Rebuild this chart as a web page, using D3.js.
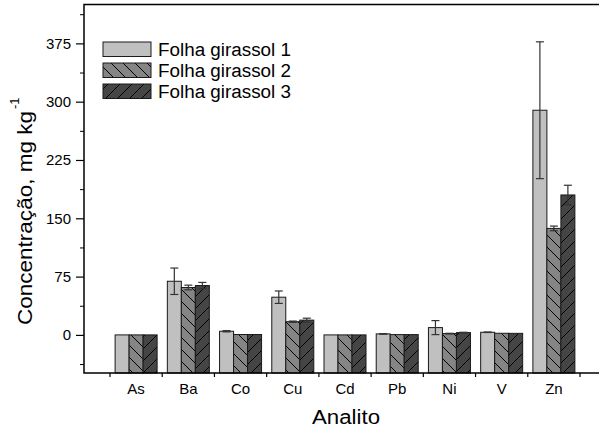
<!DOCTYPE html>
<html>
<head>
<meta charset="utf-8">
<script src="https://cdn.jsdelivr.net/npm/d3@7"></script>
<style>
  html, body { margin: 0; padding: 0; background: #fff; }
  svg { display: block; font-family: "Liberation Sans", Arial, sans-serif; }
</style>
</head>
<body>
<svg id="chart" width="599" height="434"></svg>
<script>
// Element concentrations in sunflower leaves (three samples)
const categories = ["As", "Ba", "Co", "Cu", "Cd", "Pb", "Ni", "V", "Zn"];
const seriesNames = ["Folha girassol 1", "Folha girassol 2", "Folha girassol 3"];
const folha1 = [0, 69, 4.7, 48.5, 0, 1.3, 9.4, 3.4, 289];
const folha2 = [0, 61, 0.5, 17, 0, 0.4, 1.7, 2.1, 137];
const folha3 = [0, 63.5, 0.5, 19, 0, 0.4, 3, 2, 180];
const erro1 = [0, 17, 0.8, 8, 0, 0.3, 9, 0.3, 88];
const erro2 = [0, 3, 0, 0.8, 0, 0, 0.4, 0, 3];
const erro3 = [0, 4, 0, 2.5, 0, 0, 0.4, 0, 12.5];
const yTicks = [0, 75, 150, 225, 300, 375];
const yMinorTicks = [-37.5, 37.5, 112.5, 187.5, 262.5, 337.5, 412.5];

const series = [folha1, folha2, folha3];
const errors = [erro1, erro2, erro3];

const svg = d3.select("#chart");

const frameLeft = 84, frameTop = 4.5, frameBottom = 373, frameRight = 599;

const y = d3.scaleLinear().domain([-49, 425]).range([frameBottom, frameTop]);
const x = d3.scaleBand().domain(categories).range([110, 580]).padding(0);
const barW = 14;
const groupW = barW * series.length;

// hatch patterns
const defs = svg.append("defs");
function hatch(id, bg, dir) {
  const p = defs.append("pattern").attr("id", id)
    .attr("patternUnits", "userSpaceOnUse").attr("width", 12).attr("height", 12);
  p.append("rect").attr("width", 12).attr("height", 12).attr("fill", bg);
  const d = dir === "back"
    ? "M-3,-3 L15,15 M-3,9 L3,15 M9,-3 L15,3"
    : "M-3,15 L15,-3 M-3,3 L3,-3 M9,15 L15,9";
  p.append("path").attr("d", d).attr("stroke", "#000").attr("stroke-width", 1);
}
hatch("h2", "#858585", "back");
hatch("h3", "#454545", "fwd");
const fills = ["#c0c0c0", "url(#h2)", "url(#h3)"];

// bars (rise from the bottom of the frame)
series.forEach((vals, s) => {
  svg.append("g").selectAll("rect").data(vals).join("rect")
    .attr("x", (d, i) => x(categories[i]) + (x.bandwidth() - groupW) / 2 + s * barW)
    .attr("y", d => y(d))
    .attr("width", barW)
    .attr("height", d => frameBottom - y(d))
    .attr("fill", fills[s])
    .attr("stroke", "#1a1a1a")
    .attr("stroke-width", 1);
});

// error bars
series.forEach((vals, s) => {
  const g = svg.append("g").attr("stroke", "#333").attr("stroke-width", 1.2);
  vals.forEach((v, i) => {
    const e = errors[s][i];
    if (!e) return;
    const cx = x(categories[i]) + (x.bandwidth() - groupW) / 2 + s * barW + barW / 2;
    const y1 = y(v + e), y0 = y(v - e);
    g.append("line").attr("x1", cx).attr("x2", cx).attr("y1", y1).attr("y2", y0);
    g.append("line").attr("x1", cx - 4).attr("x2", cx + 4).attr("y1", y1).attr("y2", y1);
    g.append("line").attr("x1", cx - 4).attr("x2", cx + 4).attr("y1", y0).attr("y2", y0);
  });
});

// frame
svg.append("path")
  .attr("d", `M${frameRight},${frameTop} H${frameLeft} V${frameBottom} H${frameRight}`)
  .attr("fill", "none").attr("stroke", "#000").attr("stroke-width", 1.5);

// y axis
const yAxis = svg.append("g").attr("transform", `translate(${frameLeft},0)`)
  .call(d3.axisLeft(y).tickValues(yTicks).tickSize(8).tickPadding(5).tickFormat(d3.format("d")));
yAxis.select(".domain").remove();
yAxis.selectAll("line").attr("stroke", "#000").attr("stroke-width", 1.2);
yAxis.selectAll("text").attr("font-size", 15).attr("fill", "#000")
  .attr("font-family", "'Liberation Sans', Arial, sans-serif");
svg.append("g").attr("transform", `translate(${frameLeft},0)`)
  .call(d3.axisLeft(y).tickValues(yMinorTicks).tickSize(4).tickFormat(""))
  .call(g => g.select(".domain").remove())
  .selectAll("line").attr("stroke", "#000").attr("stroke-width", 1);

// x axis: ticks sit at band boundaries
const boundaries = categories.map(c => x(c)).concat([x.range()[1]]);
svg.append("g").selectAll("line").data(boundaries).join("line")
  .attr("x1", d => d).attr("x2", d => d)
  .attr("y1", frameBottom).attr("y2", frameBottom + 4)
  .attr("stroke", "#000").attr("stroke-width", 1.2);
svg.append("g").selectAll("text").data(categories).join("text")
  .attr("x", d => x(d) + x.bandwidth() / 2)
  .attr("y", 393.5)
  .attr("text-anchor", "middle")
  .attr("font-size", 15)
  .text(d => d);

// axis titles
svg.append("text")
  .attr("x", 312).attr("y", 423.5)
  .attr("font-size", 20)
  .attr("textLength", 68).attr("lengthAdjust", "spacingAndGlyphs")
  .text("Analito");

const yt = svg.append("g").attr("transform", "translate(31.5,325) rotate(-90)");
yt.append("text").attr("x", 0).attr("y", 0)
  .attr("font-size", 21)
  .attr("textLength", 214).attr("lengthAdjust", "spacingAndGlyphs")
  .text("Concentração, mg kg");
yt.append("text").attr("x", 216).attr("y", -13)
  .attr("font-size", 13)
  .text("-1");

// legend
const legend = svg.append("g");
seriesNames.forEach((name, s) => {
  const ly = 42 + s * 21;
  legend.append("rect")
    .attr("x", 103).attr("y", ly).attr("width", 48).attr("height", 14.5)
    .attr("fill", fills[s]).attr("stroke", "#1a1a1a").attr("stroke-width", 1);
  legend.append("text")
    .attr("x", 158).attr("y", ly + 13.5)
    .attr("font-size", 18)
    .attr("textLength", 133).attr("lengthAdjust", "spacingAndGlyphs")
    .text(name);
});
</script>
</body>
</html>
